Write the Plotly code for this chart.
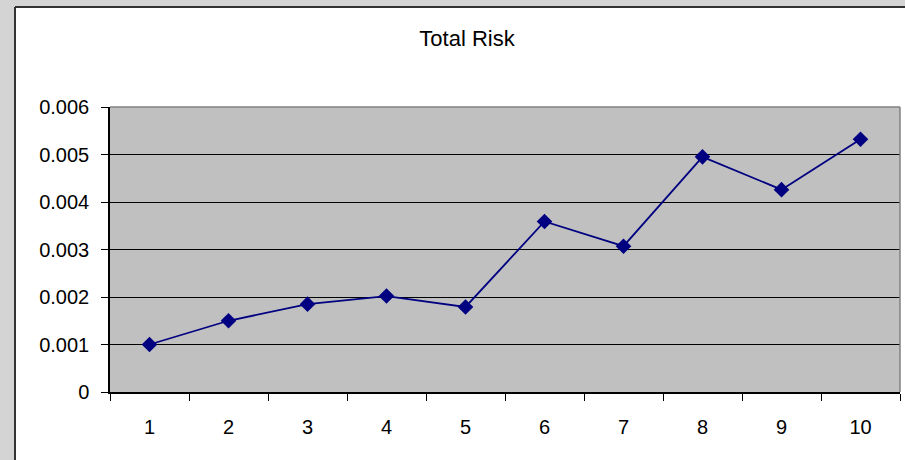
import plotly.graph_objects as go

# Portfolio total risk by number of assets
periods = ["1", "2", "3", "4", "5", "6", "7", "8", "9", "10"]
total_risk = [0.00100, 0.00150, 0.00185, 0.00202, 0.00179,
              0.00359, 0.00307, 0.00495, 0.00426, 0.00532]
y_ticks = [0, 0.001, 0.002, 0.003, 0.004, 0.005, 0.006]
y_tick_text = ["0", "0.001", "0.002", "0.003", "0.004", "0.005", "0.006"]

W, H = 905, 460
L, R, T, B = 110, 5, 107, 68
plot_w = W - L - R
plot_h = H - T - B


def px_x(p):
    return (p - L) / plot_w


def px_y(p):
    return (H - B - p) / plot_h


NAVY = "#000080"
fig = go.Figure()
fig.add_trace(go.Scatter(
    x=periods, y=total_risk, mode="lines+markers",
    line=dict(color=NAVY, width=1.8),
    marker=dict(symbol="diamond", size=12, color=NAVY),
    hoverinfo="x+y", showlegend=False,
))

font = "Liberation Sans, Arial, sans-serif"
frame_left, frame_top = 15, 7
shapes = [
    # grey surround outside the chart frame
    dict(type="rect", xref="paper", yref="paper", x0=px_x(-20), x1=px_x(frame_left),
         y0=px_y(H + 20), y1=px_y(-20), fillcolor="#d4d4d4", line_width=0),
    dict(type="rect", xref="paper", yref="paper", x0=px_x(-20), x1=px_x(W + 20),
         y0=px_y(frame_top), y1=px_y(-20), fillcolor="#d4d4d4", line_width=0),
    # chart frame edges
    dict(type="line", xref="paper", yref="paper", x0=px_x(frame_left), x1=px_x(frame_left),
         y0=px_y(frame_top), y1=px_y(H + 20), line=dict(color="#333333", width=2)),
    dict(type="line", xref="paper", yref="paper", x0=px_x(frame_left), x1=px_x(W + 20),
         y0=px_y(frame_top), y1=px_y(frame_top), line=dict(color="#333333", width=2)),
    # plot-area top and right border
    dict(type="line", xref="paper", yref="paper", x0=0, x1=1, y0=1, y1=1,
         line=dict(color="#808080", width=1.5)),
    dict(type="line", xref="paper", yref="paper", x0=1, x1=1, y0=0, y1=1,
         line=dict(color="#808080", width=1.5)),
]

fig.update_layout(
    width=W, height=H,
    margin=dict(l=L, r=R, t=T, b=B),
    paper_bgcolor="white",
    plot_bgcolor="#c0c0c0",
    font=dict(family=font, size=20, color="black"),
    title=dict(text="Total Risk", x=px_x(467), xref="paper", xanchor="center",
               y=1 - 38 / H, yref="container", yanchor="middle",
               font=dict(family=font, size=22, color="black")),
    xaxis=dict(type="category", tickson="boundaries", ticks="outside", ticklen=7,
               tickcolor="black", tickwidth=1, showline=True, linecolor="black",
               linewidth=1.5, showgrid=False, ticklabelstandoff=16,
               range=[-0.5, 9.5], fixedrange=True),
    yaxis=dict(range=[0, 0.006], tickvals=y_ticks, ticktext=y_tick_text,
               ticks="outside", ticklen=7, tickcolor="black", tickwidth=1,
               showline=True, linecolor="black", linewidth=1.5,
               showgrid=True, gridcolor="black", gridwidth=1, zeroline=False,
               ticklabelstandoff=8, fixedrange=True),
    shapes=shapes,
)

fig.write_html("out.html")
